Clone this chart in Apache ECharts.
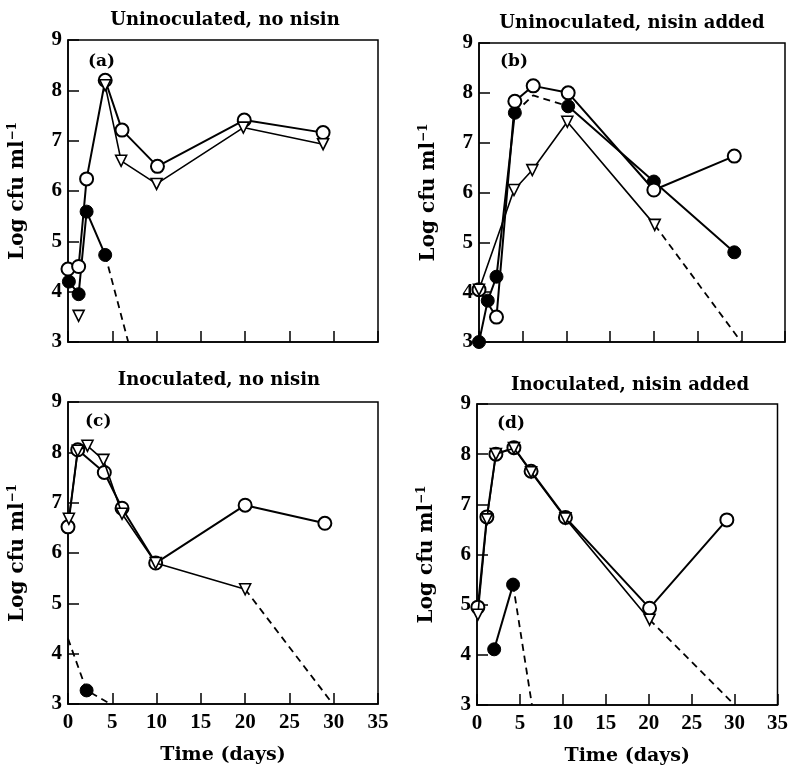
<!DOCTYPE html>
<html lang="en">
<head>
	<meta charset="utf-8">
	<title>Log cfu ml-1 vs time</title>
	<script src="https://cdn.jsdelivr.net/npm/echarts@6/dist/echarts.min.js"></script>
	<style>
		html, body { margin: 0; padding: 0; background: #fff; }
		#chart { width: 791px; height: 767px; }
	</style>
</head>
<body>
<div id="chart"></div>
<script>
    // panel titles and labels
    var panelTitles = ['Uninoculated, no nisin', 'Uninoculated, nisin added', 'Inoculated, no nisin', 'Inoculated, nisin added'];
    var panelTags = ['(a)', '(b)', '(c)', '(d)'];

    // (a) uninoculated, no nisin  -- [day, log cfu]
    var aOpen = [[0, 4.45], [1.2, 4.5], [2.1, 6.24], [4.2, 8.2], [6.1, 7.21], [10.1, 6.49], [19.9, 7.41], [28.8, 7.16]];
    var aTri = [[4.2, 8.1], [6.0, 6.6], [10, 6.14], [19.8, 7.26], [28.8, 6.93]];
    var aTriAlone = [[1.2, 3.52]];
    var aFilled = [[0.1, 4.2], [1.2, 3.95], [2.1, 5.59], [4.2, 4.73]];
    var aFilledDash = [[4.2, 4.73], [6.8, 3]];

    // (b) uninoculated, nisin added
    var bOpen = [[0, 4.05], [2, 3.5], [4.1, 7.83], [6.2, 8.14], [10.2, 8.0], [20, 6.05], [29.2, 6.73]];
    var bTri = [[0, 4.05], [4, 6.05], [6.1, 6.45], [10.1, 7.42], [20.1, 5.35]];
    var bTriDash = [[20.1, 5.35], [30, 3]];
    var bFilled = [[0, 3], [1, 3.83], [2, 4.31], [4.1, 7.6]];
    var bFilledDash = [[4.1, 7.6], [6.2, 7.95], [10.2, 7.73]];
    var bFilledLate = [[10.2, 7.73], [20, 6.22], [29.2, 4.8]];

    // (c) inoculated, no nisin
    var cOpen = [[0, 6.52], [1.1, 8.05], [4.1, 7.6], [6.1, 6.89], [9.9, 5.8], [20, 6.95], [29, 6.59]];
    var cTri = [[0.1, 6.68], [1.1, 8.03], [2.2, 8.13], [4.0, 7.85], [6.1, 6.78], [9.9, 5.8], [20, 5.28]];
    var cTriDash = [[20, 5.28], [29.9, 3]];
    var cFilled = [[2.1, 3.27]];
    var cFilledDash = [[0, 4.3], [2.1, 3.27], [4.8, 3]];

    // (d) inoculated, nisin added
    var dOpen = [[0.1, 4.95], [1.15, 6.75], [2.2, 8.0], [4.3, 8.13], [6.3, 7.66], [10.3, 6.74], [20.1, 4.93], [29.1, 6.69]];
    var dTri = [[0.1, 4.8], [1.15, 6.7], [2.2, 8.0], [4.3, 8.12], [6.3, 7.64], [10.3, 6.72], [20.1, 4.7]];
    var dTriDash = [[20.1, 4.7], [30, 3]];
    var dFilled = [[2, 4.11], [4.2, 5.4]];
    var dFilledDash = [[4.2, 5.4], [6.4, 3]];

    var grids = [
        { left: 68, top: 40, width: 310, height: 302 },
        { left: 479, top: 43, width: 306, height: 299 },
        { left: 68, top: 402, width: 310, height: 302 },
        { left: 477, top: 404, width: 305, height: 303 }
    ];
    var titlePos = [[225, 20], [632, 23], [219, 380], [630, 385]];
    var tagPos = [[88, 62], [500, 62], [85, 422], [497, 424]];

    var serif = '"DejaVu Serif", serif';
    var tickFont = '"Liberation Serif", "Times New Roman", serif';

    function lineSeries(gi, data, kind, dashed) {
        var s = {
            type: 'line',
            xAxisIndex: gi,
            yAxisIndex: gi,
            data: data,
            animation: false,
            lineStyle: { color: '#000', width: dashed ? 1.8 : 2, type: dashed ? [7, 5] : 'solid' },
            symbolSize: 13,
            symbol: 'none'
        };
        if (kind === 'open') {
            s.symbol = 'circle';
            s.itemStyle = { color: '#fff', borderColor: '#000', borderWidth: 2 };
            s.z = 3;
        } else if (kind === 'filled') {
            s.symbol = 'circle';
            s.itemStyle = { color: '#000', borderColor: '#000', borderWidth: 1 };
            s.z = 2;
        } else if (kind === 'tri' || kind === 'alone') {
            s.symbol = 'triangle';
            s.symbolRotate = 180;
            s.symbolSize = 11;
            s.itemStyle = { color: '#fff', borderColor: '#000', borderWidth: 1.6 };
            s.lineStyle.width = 1.6;
            s.z = 4;
        } else {
            s.z = 1;
        }
        return s;
    }

    var xAxes = [], yAxes = [];
    for (var i = 0; i < 4; i++) {
        var bottomRow = i >= 2;
        xAxes.push({
            gridIndex: i,
            type: 'value',
            min: 0, max: 35, interval: 5,
            name: bottomRow ? 'Time (days)' : '',
            nameLocation: 'middle',
            nameGap: 42,
            nameTextStyle: { fontFamily: serif, fontWeight: 'bold', fontSize: 19, color: '#000' },
            axisLine: { lineStyle: { color: '#000', width: 1.5 } },
            axisTick: { inside: true, length: 11, lineStyle: { color: '#000', width: 1.5 } },
            axisLabel: { show: bottomRow, margin: 8, fontFamily: tickFont, fontWeight: 'bold', fontSize: 21, color: '#000' },
            splitLine: { show: false }
        });
        yAxes.push({
            gridIndex: i,
            type: 'value',
            min: 3, max: 9, interval: 1,
            name: 'Log cfu ml{sup|\u22121}',
            nameLocation: 'middle',
            nameRotate: 90,
            nameGap: 40,
            nameTextStyle: {
                fontFamily: serif, fontWeight: 'bold', fontSize: 20, color: '#000',
                rich: { sup: { fontFamily: serif, fontSize: 12, verticalAlign: 'top', color: '#000', padding: [0, 0, 9, 0] } }
            },
            axisLine: { lineStyle: { color: '#000', width: 1.5 } },
            axisTick: { inside: true, length: 11, lineStyle: { color: '#000', width: 1.5 } },
            axisLabel: { margin: 6, fontFamily: tickFont, fontWeight: 'bold', fontSize: 21, color: '#000' },
            splitLine: { show: false }
        });
    }

    var graphics = [];
    for (var j = 0; j < 4; j++) {
        graphics.push({
            type: 'text', x: titlePos[j][0], y: titlePos[j][1],
            style: { text: panelTitles[j], fill: '#000', font: 'bold 18px ' + serif, textAlign: 'center', textVerticalAlign: 'middle' }
        });
        graphics.push({
            type: 'text', x: tagPos[j][0], y: tagPos[j][1],
            style: { text: panelTags[j], fill: '#000', font: 'bold 17px ' + serif, textAlign: 'left', textVerticalAlign: 'middle' }
        });
    }

    var series = [
        // (a)
        lineSeries(0, aFilledDash, 'dash', true),
        lineSeries(0, aFilled, 'filled'),
        lineSeries(0, aOpen, 'open'),
        lineSeries(0, aTri, 'tri'),
        lineSeries(0, aTriAlone, 'alone'),
        // (b)
        lineSeries(1, bTriDash, 'dash', true),
        lineSeries(1, bFilledDash, 'dash', true),
        lineSeries(1, bFilled, 'filled'),
        lineSeries(1, bFilledLate, 'filled'),
        lineSeries(1, bOpen, 'open'),
        lineSeries(1, bTri, 'tri'),
        // (c)
        lineSeries(2, cTriDash, 'dash', true),
        lineSeries(2, cFilledDash, 'dash', true),
        lineSeries(2, cFilled, 'filled'),
        lineSeries(2, cOpen, 'open'),
        lineSeries(2, cTri, 'tri'),
        // (d)
        lineSeries(3, dTriDash, 'dash', true),
        lineSeries(3, dFilledDash, 'dash', true),
        lineSeries(3, dFilled, 'filled'),
        lineSeries(3, dOpen, 'open'),
        lineSeries(3, dTri, 'tri')
    ];

    var chart = echarts.init(document.getElementById('chart'), null, { renderer: 'canvas' });
    chart.setOption({
        animation: false,
        backgroundColor: '#fff',
        grid: grids.map(function (g) {
            return { left: g.left, top: g.top, width: g.width, height: g.height, show: true, borderColor: '#000', borderWidth: 1.5, backgroundColor: 'transparent' };
        }),
        xAxis: xAxes,
        yAxis: yAxes,
        graphic: graphics,
        series: series
    });
</script>
</body>
</html>
